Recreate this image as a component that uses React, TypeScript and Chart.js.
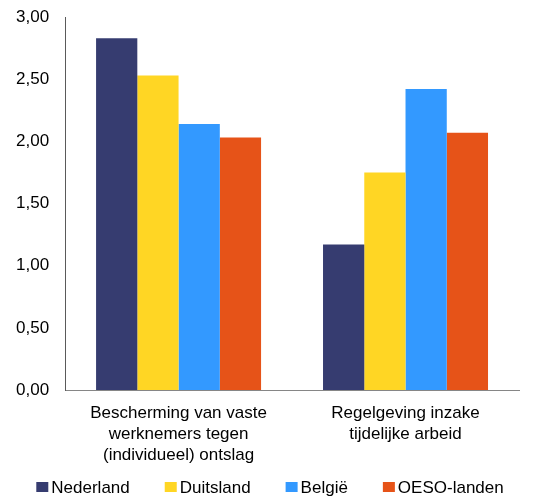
import React, { useEffect, useRef } from "react";
import { Chart, registerables } from "chart.js";

Chart.register(...registerables);

const categories: string[][] = [
  ["Bescherming van vaste", "werknemers tegen", "(individueel) ontslag"],
  ["Regelgeving inzake", "tijdelijke arbeid"],
];
const seriesNames = ["Nederland", "Duitsland", "België", "OESO-landen"];
const nederland = [2.83, 1.17];
const duitsland = [2.53, 1.75];
const belgie = [2.14, 2.42];
const oeso = [2.03, 2.07];
const colors = ["#363C70", "#FFD624", "#3399FF", "#E65318"];
const yTicksMin = 0;
const yTicksMax = 3;
const yTickStep = 0.5;

const FONT = "'Liberation Sans', Arial, sans-serif";

const bottomLegend = {
  id: "bottomLegend",
  afterDraw(chart: any) {
    const ctx = chart.ctx as CanvasRenderingContext2D;
    const ds = chart.data.datasets;
    ctx.save();
    ctx.font = `17px ${FONT}`;
    ctx.textBaseline = "middle";
    ctx.textAlign = "left";
    const boxW = 12;
    const boxH = 10;
    const gap = 3;
    const spacing = 35;
    const widths = ds.map((d: any) => boxW + gap + ctx.measureText(d.label).width);
    const total = widths.reduce((a: number, b: number) => a + b, 0) + spacing * (ds.length - 1);
    let x = (chart.width - total) / 2 + 2;
    const y = 487;
    ds.forEach((d: any, i: number) => {
      ctx.fillStyle = d.backgroundColor;
      ctx.fillRect(x, y - boxH / 2, boxW, boxH);
      ctx.fillStyle = "#000";
      ctx.fillText(d.label, x + boxW + gap, y + 1);
      x += widths[i] + spacing;
    });
    ctx.restore();
  },
};

export default function App() {
  const ref = useRef<HTMLCanvasElement | null>(null);
  useEffect(() => {
    if (!ref.current) return;
    const values = [nederland, duitsland, belgie, oeso];
    const chart = new Chart(ref.current, {
      type: "bar",
      data: {
        labels: categories,
        datasets: seriesNames.map((name, i) => ({
          label: name,
          data: values[i],
          backgroundColor: colors[i],
          borderWidth: 0,
          barPercentage: 1,
          categoryPercentage: 0.727,
        })),
      },
      plugins: [bottomLegend],
      options: {
        responsive: false,
        animation: false,
        layout: { padding: { left: 0, right: 17, top: 0, bottom: 19 } },
        plugins: {
          tooltip: { enabled: false },
          legend: { display: false },
        },
        scales: {
          x: {
            grid: { display: false, drawTicks: false },
            border: { display: true, color: "#868686", width: 1 },
            ticks: {
              font: { family: FONT, size: 17, lineHeight: 1.235 },
              color: "#000",
              padding: 13,
              maxRotation: 0,
              autoSkip: false,
            },
          },
          y: {
            min: yTicksMin,
            max: yTicksMax,
            grid: { display: false, drawTicks: false },
            border: { display: true, color: "#5a5a5a", width: 1 },
            afterFit: (scale: any) => {
              scale.paddingTop = 17;
            },
            ticks: {
              stepSize: yTickStep,
              font: { family: FONT, size: 17 },
              color: "#000",
              padding: 16,
              callback: (v: any) => Number(v).toFixed(2).replace(".", ","),
            },
          },
        },
      },
    });
    return () => chart.destroy();
  }, []);
  return (
    <div style={{ position: "fixed", left: 0, top: 0, width: 536, height: 498 }}>
      <canvas ref={ref} width={536} height={498} style={{ display: "block" }} />
    </div>
  );
}
